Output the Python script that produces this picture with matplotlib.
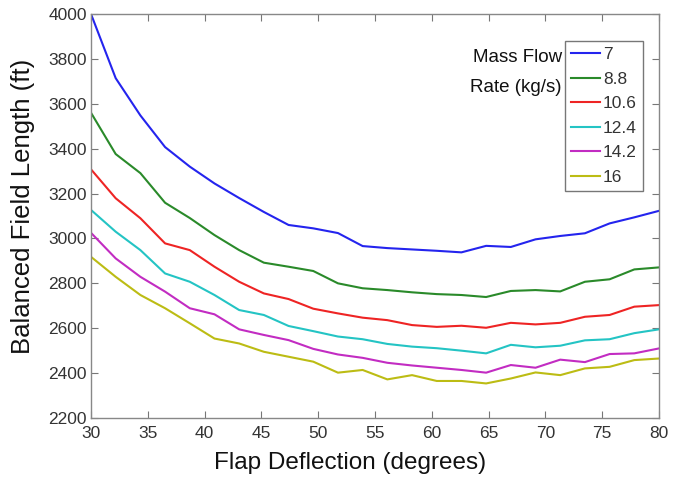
import numpy as np
import matplotlib.pyplot as plt

plt.rcParams['font.family'] = ['Liberation Sans', 'DejaVu Sans']

# flap deflection samples (24 points from 30 to 80 deg)
flap = np.linspace(30, 80, 24)

mass_flow = ['7', '8.8', '10.6', '12.4', '14.2', '16']

bfl_7 = [4000, 3714, 3548, 3407, 3320, 3245, 3180, 3118, 3060, 3045, 3024, 2966,
         2957, 2951, 2945, 2938, 2967, 2962, 2996, 3011, 3023, 3067, 3094, 3123]
bfl_88 = [3560, 3376, 3291, 3159, 3091, 3015, 2948, 2892, 2874, 2855, 2800, 2778,
          2770, 2760, 2752, 2748, 2739, 2766, 2770, 2764, 2807, 2818, 2862, 2871]
bfl_106 = [3308, 3179, 3090, 2978, 2948, 2874, 2807, 2755, 2730, 2687, 2666, 2647,
           2636, 2614, 2606, 2611, 2602, 2624, 2617, 2624, 2651, 2659, 2696, 2703]
bfl_124 = [3127, 3030, 2948, 2844, 2807, 2748, 2681, 2659, 2610, 2587, 2563, 2551,
           2530, 2518, 2511, 2500, 2488, 2526, 2515, 2522, 2546, 2551, 2578, 2595]
bfl_142 = [3025, 2911, 2829, 2763, 2689, 2662, 2595, 2570, 2547, 2508, 2483, 2468,
           2446, 2434, 2424, 2414, 2402, 2436, 2424, 2460, 2449, 2485, 2488, 2510]
bfl_16 = [2918, 2829, 2748, 2689, 2622, 2554, 2532, 2495, 2473, 2451, 2402, 2414,
          2372, 2391, 2365, 2365, 2354, 2376, 2403, 2391, 2421, 2428, 2458, 2465]

series = [bfl_7, bfl_88, bfl_106, bfl_124, bfl_142, bfl_16]
colors = ['#2424ee', '#2a8a2a', '#ee2424', '#24c4c4', '#c22cc2', '#bcbc14']

fig = plt.figure(figsize=(6.78, 4.78), dpi=100)
ax = fig.add_axes([91/678, 1-418/478, (659-91)/678, (418-14)/478])

for vals, c, lab in zip(series, colors, mass_flow):
    ax.plot(flap, vals, color=c, lw=1.5, label=lab)

ax.set_xlim(30, 80)
ax.set_ylim(2200, 4000)
ax.set_xticks(np.arange(30, 81, 5))
ax.set_yticks(np.arange(2200, 4001, 200))
ax.tick_params(direction='in', top=True, right=True, length=5, width=0.8,
               colors='#777777', labelcolor='#333333', labelsize=12.5)
ax.tick_params(axis='x', pad=6)
ax.tick_params(axis='y', pad=3)
for s in ax.spines.values():
    s.set_color('#888888')
    s.set_linewidth(1.0)

ax.set_xlabel('Flap Deflection (degrees)', fontsize=17.5, color='#111111')
ax.set_ylabel('Balanced Field Length (ft)', fontsize=18.5, color='#111111')
# label positions in axes fraction (centres)
ax.xaxis.set_label_coords((350-91)/568, -(463-418)/404)
ax.yaxis.set_label_coords(-(91-23)/568, 1-(206-14)/404)
ax.xaxis.label.set_va('center')
ax.yaxis.label.set_va('center')

leg = ax.legend(loc='upper right', bbox_to_anchor=((643-91)/568, 1-(41-14)/404),
                fontsize=12.5, frameon=True, fancybox=False, handlelength=1.65,
                labelspacing=0.54, borderaxespad=0, handletextpad=0.2,
                borderpad=0.35)
leg.get_frame().set_edgecolor('#555555')
leg.get_frame().set_linewidth(1.0)
for t in leg.get_texts():
    t.set_color('#333333')

fig.text(562/678, 1-58/478, 'Mass Flow', ha='right', va='center',
         fontsize=13.5, color='#111111')
fig.text(562/678, 1-87/478, 'Rate (kg/s)', ha='right', va='center',
         fontsize=13.5, color='#111111')

fig.savefig('out.png', dpi=100)
